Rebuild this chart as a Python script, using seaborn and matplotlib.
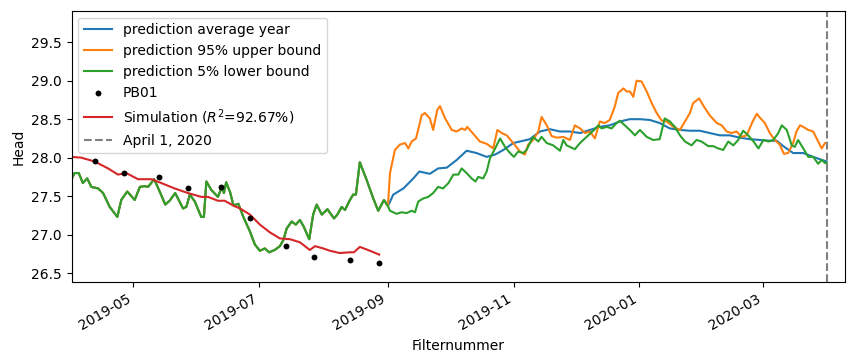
import numpy as np
import pandas as pd
import matplotlib
matplotlib.use("Agg")
import matplotlib.pyplot as plt
import matplotlib.dates as mdates
import seaborn as sns

START = pd.Timestamp("2019-04-01")

# observed history (shared by all prediction series up to Sep 1), days since START
hist_days = [0, 1.5, 3.5, 5.5, 7.6, 9.6, 12.9, 15.3, 18.5, 22.2, 24.1, 27.0, 30.6, 33.1,
             35.5, 37.1, 40.0, 42.7, 45.4, 47.5, 50.2, 54.0, 55.6, 57.3, 59.7, 62.8,
             64.1, 65.3, 67.7, 70.9, 72.8, 73.8, 74.9, 76.8, 78.4, 80.8, 83.2, 86.4,
             88.8, 91.2, 93.6, 95.7, 98.4, 100.9, 102.6, 104.2, 106.6, 108.6, 110.6, 112.5,
             115.1, 117.0, 118.7, 121.2, 123.9, 127.1, 128.7, 130.8, 132.4, 134.8, 136.4,
             137.7, 139.6, 142.9, 146.1, 148.5, 151.3, 153.2]
hist_head = [27.72, 27.80, 27.80, 27.67, 27.73, 27.62, 27.60, 27.54, 27.36, 27.23, 27.45,
             27.56, 27.45, 27.62, 27.63, 27.62, 27.72, 27.56, 27.39, 27.44, 27.54, 27.34,
             27.36, 27.52, 27.43, 27.23, 27.23, 27.69, 27.58, 27.49, 27.62, 27.54, 27.68,
             27.55, 27.38, 27.40, 27.23, 27.04, 26.87, 26.79, 26.82, 26.77, 26.80, 26.85,
             26.93, 27.08, 27.17, 27.13, 27.19, 27.10, 26.94, 27.26, 27.39, 27.26, 27.33,
             27.21, 27.26, 27.36, 27.32, 27.45, 27.52, 27.52, 27.94, 27.71, 27.47, 27.31,
             27.45, 27.37]

# prediction: average year
avg_days = [155.8, 160.7, 165.5, 168.4, 173.5, 177.5, 181.7, 186.5, 191.3, 196.1, 201.0,
            205.1, 209.1, 213.9, 218.7, 221.9, 226.8, 231.6, 236.5, 241.3, 246.2, 251.0,
            255.8, 260.6, 265.5, 270.3, 275.2, 280.0, 284.8, 289.7, 294.6, 299.4, 304.2,
            309.0, 313.9, 318.7, 323.5, 328.4, 333.3, 338.1, 341.4, 344.6, 349.4, 354.3,
            359.1, 365.6]
avg_head = [27.52, 27.60, 27.73, 27.82, 27.79, 27.86, 27.87, 27.97, 28.09, 28.06, 28.01,
            28.04, 28.10, 28.19, 28.22, 28.24, 28.34, 28.37, 28.34, 28.34, 28.32, 28.36,
            28.40, 28.42, 28.47, 28.50, 28.50, 28.49, 28.45, 28.38, 28.36, 28.35, 28.35,
            28.32, 28.29, 28.29, 28.26, 28.24, 28.23, 28.22, 28.22, 28.15, 28.06, 28.06,
            28.01, 27.95]

# prediction: 95% upper bound
up_days = [154.2, 156.6, 159.0, 161.5, 163.1, 164.7, 166.8, 168.4, 169.5, 171.1, 173.5,
           175.1, 177.1, 178.4, 180.9, 184.1, 186.5, 188.9, 190.5, 191.6, 194.5, 197.7,
           201.0, 204.2, 206.2, 208.3, 210.7, 213.9, 217.1, 219.5, 221.1, 223.5, 226.0,
           227.6, 230.1, 232.5, 234.9, 238.1, 241.3, 243.7, 246.2, 248.6, 251.0, 253.4,
           255.8, 258.2, 260.6, 263.0, 264.7, 267.2, 268.8, 270.4, 272.0, 273.6, 276.0,
           278.5, 280.9, 283.3, 285.8, 288.2, 291.4, 294.6, 297.0, 299.4, 301.0, 303.9,
           305.8, 309.0, 312.4, 314.8, 317.2, 319.6, 322.0, 324.4, 326.9, 329.8, 331.8,
           333.3, 335.7, 338.1, 340.5, 342.9, 344.9, 347.0, 349.4, 351.0, 352.7, 354.3,
           356.7, 359.1, 361.5, 363.2, 364.8, 365.6]
up_head = [27.80, 28.10, 28.17, 28.19, 28.12, 28.21, 28.25, 28.42, 28.55, 28.58, 28.51,
           28.36, 28.62, 28.67, 28.51, 28.36, 28.34, 28.38, 28.36, 28.40, 28.31, 28.21,
           28.18, 28.12, 28.36, 28.32, 28.29, 28.19, 28.08, 28.04, 28.17, 28.23, 28.34,
           28.53, 28.42, 28.28, 28.26, 28.27, 28.23, 28.42, 28.38, 28.32, 28.34, 28.25,
           28.47, 28.45, 28.49, 28.66, 28.84, 28.90, 28.86, 28.86, 28.79, 29.00, 28.99,
           28.86, 28.71, 28.58, 28.48, 28.47, 28.40, 28.36, 28.47, 28.58, 28.71, 28.77,
           28.68, 28.55, 28.45, 28.42, 28.34, 28.32, 28.34, 28.27, 28.29, 28.47, 28.57,
           28.52, 28.45, 28.32, 28.23, 28.17, 28.05, 28.06, 28.19, 28.34, 28.42, 28.40,
           28.36, 28.34, 28.21, 28.12, 28.19, 28.19]

# prediction: 5% lower bound
low_days = [154.2, 157.4, 159.8, 162.3, 164.7, 166.3, 167.9, 170.3, 172.7, 175.1, 177.5,
            179.9, 182.5, 184.9, 187.3, 188.9, 191.3, 193.7, 195.6, 196.9, 199.3, 201.0,
            202.6, 205.1, 207.5, 209.9, 212.3, 214.2, 216.3, 218.7, 220.3, 223.5, 226.0,
            227.6, 230.1, 233.2, 236.5, 238.1, 239.7, 242.1, 243.7, 246.2, 248.6, 251.0,
            253.4, 255.0, 256.7, 259.1, 261.5, 263.9, 265.5, 267.9, 270.3, 272.8, 275.2,
            278.5, 281.6, 284.8, 287.2, 289.7, 292.1, 294.6, 297.0, 300.2, 302.6, 305.0,
            308.3, 310.7, 313.1, 315.5, 318.0, 320.4, 322.8, 325.2, 327.6, 330.2, 332.6,
            335.0, 337.4, 339.8, 342.2, 343.9, 346.3, 348.7, 350.2, 351.8, 354.3, 356.7,
            359.1, 361.5, 363.2, 364.8, 365.6]
low_head = [27.31, 27.27, 27.29, 27.28, 27.31, 27.29, 27.43, 27.47, 27.49, 27.54, 27.62,
            27.60, 27.67, 27.78, 27.78, 27.86, 27.80, 27.73, 27.69, 27.75, 27.73, 27.82,
            27.99, 28.12, 28.25, 28.14, 28.06, 28.01, 28.08, 28.06, 28.10, 28.27, 28.21,
            28.27, 28.19, 28.16, 28.09, 28.23, 28.16, 28.13, 28.11, 28.19, 28.25, 28.31,
            28.37, 28.42, 28.38, 28.40, 28.38, 28.45, 28.48, 28.42, 28.36, 28.29, 28.36,
            28.27, 28.23, 28.24, 28.51, 28.47, 28.40, 28.29, 28.21, 28.16, 28.23, 28.21,
            28.15, 28.15, 28.12, 28.10, 28.21, 28.16, 28.23, 28.35, 28.29, 28.21, 28.12,
            28.23, 28.21, 28.23, 28.32, 28.42, 28.36, 28.16, 28.14, 28.23, 28.12, 28.01,
            28.01, 27.92, 27.97, 27.93, 27.93]

# simulation
sim_days = [0, 4.7, 11.2, 17.7, 22.5, 26.5, 32.2, 38.7, 43.5, 49.9, 56.4, 62.9, 66.1, 70.9,
            74.1, 78.9, 81.6, 86.4, 91.2, 96.0, 100.9, 105.8, 110.6, 115.4, 117.9, 121.9,
            125.1, 129.9, 134.7, 136.7, 139.6, 144.5, 149.0]
sim_head = [28.01, 28.00, 27.95, 27.86, 27.78, 27.80, 27.72, 27.72, 27.67, 27.60, 27.54,
            27.49, 27.49, 27.44, 27.44, 27.37, 27.34, 27.26, 27.13, 27.03, 26.95, 26.94,
            26.90, 26.80, 26.85, 26.82, 26.79, 26.76, 26.77, 26.77, 26.84, 26.79, 26.74]

# measurements PB01
obs_days = [11.4, 25.6, 42.4, 56.4, 72.5, 86.5, 104.0, 117.5, 135.0, 149.0]
obs_head = [27.96, 27.80, 27.75, 27.60, 27.62, 27.22, 26.85, 26.71, 26.67, 26.63]


def to_dates(days):
    return START + pd.to_timedelta(np.asarray(days, dtype=float), unit="D")


def series(days, head):
    return pd.DataFrame({"date": to_dates(list(hist_days) + list(days)),
                         "head": list(hist_head) + list(head)})


avg = series(avg_days, avg_head)
up = series(up_days, up_head)
low = series(low_days, low_head)
sim = pd.DataFrame({"date": to_dates(sim_days), "head": sim_head})
obs = pd.DataFrame({"date": to_dates(obs_days), "head": obs_head})

fig, ax = plt.subplots(figsize=(8.55, 3.63), dpi=100)
fig.subplots_adjust(left=71.5 / 855, right=845 / 855, top=1 - 10.7 / 363, bottom=1 - 282.3 / 363)

sns.lineplot(data=avg, x="date", y="head", ax=ax, color="C0", label="prediction average year")
sns.lineplot(data=up, x="date", y="head", ax=ax, color="C1", label="prediction 95% upper bound")
sns.lineplot(data=low, x="date", y="head", ax=ax, color="C2", label="prediction 5% lower bound")
sns.scatterplot(data=obs, x="date", y="head", ax=ax, color="k", s=18, linewidth=0,
                zorder=3, label="PB01")
sns.lineplot(data=sim, x="date", y="head", ax=ax, color="C3",
             label="Simulation ($R^2$=92.67%)")
ax.axvline(pd.Timestamp("2020-04-01"), color="grey", linestyle="--", label="April 1, 2020")

ax.set_xlim(START, START + pd.Timedelta(days=374.5))
ax.set_ylim(26.38, 29.91)
ax.xaxis.set_major_locator(mdates.MonthLocator(bymonth=[1, 3, 5, 7, 9, 11]))
ax.xaxis.set_major_formatter(mdates.DateFormatter("%Y-%m"))
ax.set_xlabel("Filternummer")
ax.set_ylabel("Head")
ax.legend(loc="upper left")
plt.setp(ax.get_xticklabels(), rotation=30, ha="right")

plt.savefig("out.png", dpi=100)
